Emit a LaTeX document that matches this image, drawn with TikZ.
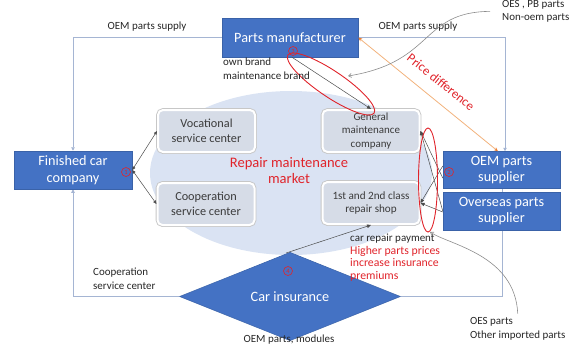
\documentclass[tikz,border=0pt]{standalone}
\usepackage{fontspec}
\setmainfont{Carlito}
\usetikzlibrary{arrows.meta,shapes.geometric,calc}
\definecolor{boxblue}{HTML}{4472C4}
\definecolor{boxedge}{HTML}{3A62A8}
\definecolor{mkt}{HTML}{DAE3F3}
\definecolor{shopfill}{HTML}{D6DCE7}
\definecolor{framec}{HTML}{A5B5D3}
\definecolor{redc}{HTML}{E0242B}
\definecolor{orangec}{HTML}{F2B27C}
\definecolor{orangetip}{HTML}{ED7D31}
\definecolor{txt}{HTML}{262626}
\definecolor{shoptxt}{HTML}{3B3B3B}
\definecolor{curvec}{HTML}{8C8C8C}
\pgfdeclarelayer{back}
\pgfsetlayers{back,main}
\tikzset{
  bluebox/.style={draw=boxedge, line width=0.5bp, fill=boxblue, text=white, align=center,
    font=\fontsize{14.3}{17}\selectfont, inner sep=0pt},
  shop/.style={rounded corners=5bp, fill=shopfill, draw=white, line width=2bp,
    preaction={draw=black!22, line width=3.8bp},
    minimum width=97bp, minimum height=42bp, align=center, text=shoptxt, inner sep=0pt},
  lbl/.style={text=txt, font=\fontsize{11}{14}\selectfont, inner sep=0pt},
  redlbl/.style={text=redc, font=\fontsize{11.8}{12.6}\selectfont, inner sep=0pt},
  frameline/.style={draw=framec, line width=0.9bp},
  frametip/.style={-{Triangle[length=3.5bp,width=3.5bp]}},
  darkarrow/.style={draw=black!70, line width=0.5bp, -{Triangle[length=4bp,width=3.5bp]}},
  curve/.style={draw=curvec, line width=0.6bp, -{Straight Barb[length=3bp,width=4bp]}},
  circnum/.style={circle, draw=redc, text=redc, line width=0.6bp, inner sep=0pt,
    minimum size=9bp, font=\fontsize{6.5}{7}\selectfont},
  redring/.style={draw=redc, line width=0.9bp}
}
\begin{document}
\begin{tikzpicture}[x=1bp,y=-1bp]
\useasboundingbox (0,0) rectangle (576,352);

% market ellipse
\node[ellipse, fill=mkt, minimum width=282bp, minimum height=164bp, inner sep=0pt] (mk) at (291,173) {};

% blue boxes
\node[bluebox, minimum width=136bp, minimum height=39bp] (pm) at (290,37.5) {Parts manufacturer};
\node[bluebox, minimum width=118bp, minimum height=38bp] (fc) at (73,170) {Finished car\\company};
\node[bluebox, minimum width=117bp, minimum height=37bp] (oem) at (501.5,170) {OEM parts\\supplier};
\node[bluebox, minimum width=117bp, minimum height=38bp] (ovs) at (501.5,211) {Overseas parts\\supplier};
\node[diamond, draw=boxedge, line width=0.5bp, fill=boxblue, text=white, inner sep=0pt,
  minimum width=221bp, minimum height=65bp, font=\fontsize{14.3}{17}\selectfont] (ins) at (290,296.5) {Car insurance};

% shops
\node[shop, font=\fontsize{12.3}{15}\selectfont] (voc) at (206.5,131) {Vocational\\service center};
\node[shop, font=\fontsize{12.3}{14.5}\selectfont] (coop) at (206,204) {Cooperation\\service center};
\node[shop, font=\fontsize{11}{13.5}\selectfont] (gm) at (371,131) {General\\maintenance\\company};
\node[shop, font=\fontsize{11.2}{14}\selectfont] (rs) at (371,203) {1st and 2nd class\\repair shop};

% market label
\node[text=redc, align=center, font=\fontsize{14.6}{16.5}\selectfont, inner sep=0pt] (mlabel) at (289,170.5) {Repair maintenance\\market};

% frame lines
\begin{pgfonlayer}{back}
\draw[frameline, frametip] (pm.west) -| (fc.north);
\draw[frameline, frametip] (pm.east) -| ($(oem.north)+(3.5,0)$);
\draw[frameline, frametip] (ins.west) -| (fc.south);
\draw[frameline] (ins.east) -| ($(oem.south)+(0.5,0)$);
\end{pgfonlayer}

% finished car company to service centers
\draw[draw=black!70, line width=0.5bp, {Triangle[length=3.5bp,width=3bp]}-{Triangle[length=3.5bp,width=3bp]}] (fc.east) -- (voc.west);
\draw[draw=black!70, line width=0.5bp, {Triangle[length=3.5bp,width=3bp]}-{Triangle[length=3.5bp,width=3bp]}] (fc.east) -- (coop.west);

% parts manufacturer to general maintenance
\draw[darkarrow] ($(pm.south)+(2,0)$) -- (gm.north);

% price difference
\draw[draw=orangec, line width=0.8bp, {Stealth[length=4bp,width=3.5bp,color=orangetip]}-{Stealth[length=4bp,width=3.5bp,color=orangetip]}]
  (pm.east) -- ($(oem.north)+(-3.5,0)$);
\node[text=redc, rotate=-38.6, font=\fontsize{13}{15}\selectfont, inner sep=0pt] (pd) at (441,82) {Price difference};

% suppliers to shops
\draw[darkarrow] ($(oem.west)+(0,8)$) -- (gm.east);
\draw[darkarrow] ($(ovs.west)+(0,0)$) -- (gm.east);
\draw[darkarrow] ($(oem.west)+(0,-4)$) -- (rs.east);
\draw[darkarrow] ($(ovs.west)+(0,1)$) -- (rs.east);

% insurance to repair shop
\draw[darkarrow] ($(ins.north)+(-4,1)$) -- (rs.south);

% red rings
\draw[redring, rotate around={-34:(331,84)}] (331,84) ellipse (52 and 13);
\draw[redring] (428,180) ellipse (9.5 and 52);

% circled numbers
\node[circnum] (n1) at (126,172) {1};
\node[circnum] (n2) at (449,172) {2};
\node[circnum] (n3) at (293,51) {3};
\node[circnum] (n4) at (288,271) {4};

% labels
\node[lbl] (l1) at (147,26.5) {OEM parts supply};
\node[lbl] (l2) at (418,27) {OEM parts supply};
\node[lbl, anchor=north west, align=left] (l3) at (223,57.5) {own brand\\maintenance brand};
\node[lbl, anchor=north west, align=left] (l4) at (93,267.5) {Cooperation\\service center};
\node[lbl] (l5) at (289,340) {OEM parts, modules};
\node[lbl, anchor=west] (l6) at (350,239) {car repair payment};
\node[redlbl, anchor=north west, align=left] (l7) at (350,246) {Higher parts prices\\increase insurance\\premiums};
\node[lbl, anchor=north west, align=left, font=\fontsize{11}{12.5}\selectfont] (oes) at (502,0.5) {OES , PB parts\\Non-oem parts};
\node[lbl, anchor=north west, align=left] (oesb) at (470,317.5) {OES parts\\Other imported parts};

% gray curves
\draw[curve] ($(oes.west)+(-12,0)$) .. controls (420,12) and (435,62) .. (348,76);
\draw[curve] ($(oesb.north)+(0,-4)$) .. controls (515,255) and (450,245) .. (430,232);
\end{tikzpicture}
\end{document}
